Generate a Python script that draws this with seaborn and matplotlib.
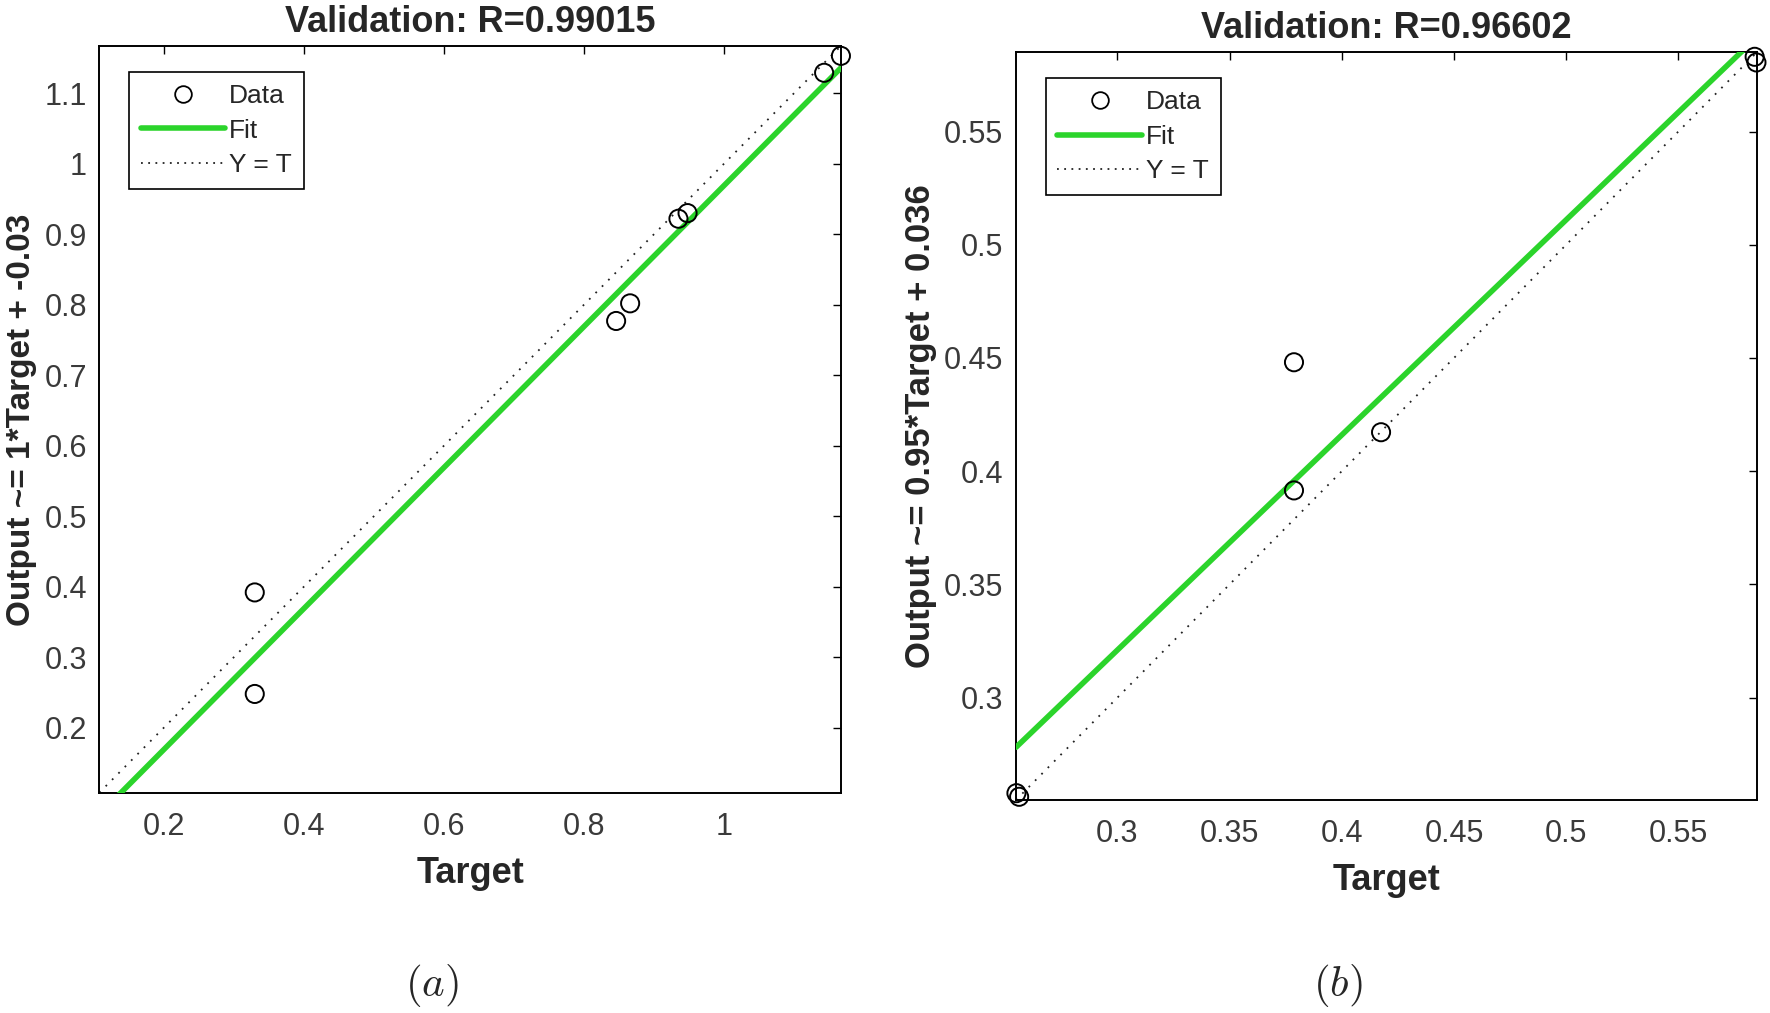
import numpy as np
import pandas as pd
import seaborn as sns
import matplotlib
matplotlib.use("Agg")
import matplotlib.pyplot as plt
from matplotlib.lines import Line2D
from matplotlib.ticker import FuncFormatter

# ---------------- data ----------------
titles = ["Validation: R=0.99015", "Validation: R=0.96602"]
ylabels = ["Output ~= 1*Target + -0.03", "Output ~= 0.95*Target + 0.036"]
panel_tags = [r"$(a)$", r"$(b)$"]

target_a = [0.330, 0.330, 0.846, 0.866, 0.935, 0.948, 1.143, 1.167]
output_a = [0.392, 0.248, 0.777, 0.802, 0.922, 0.930, 1.129, 1.153]
fit_a = (1.0, -0.031)          # slope, intercept
lims_a = (0.108, 1.167)
xticks_a = [0.2, 0.4, 0.6, 0.8, 1.0]
yticks_a = [0.2, 0.3, 0.4, 0.5, 0.6, 0.7, 0.8, 0.9, 1.0, 1.1]

target_b = [0.2550, 0.2562, 0.3787, 0.3787, 0.4175, 0.5840, 0.5848]
output_b = [0.2578, 0.2562, 0.4481, 0.3915, 0.4172, 0.5830, 0.5805]
fit_b = (0.95, 0.036)
lims_b = (0.2548, 0.5850)
xticks_b = [0.3, 0.35, 0.4, 0.45, 0.5, 0.55]
yticks_b = [0.3, 0.35, 0.4, 0.45, 0.5, 0.55]

# ---------------- style ----------------
sns.set_theme(style="white")
plt.rcParams["font.family"] = ["Liberation Sans", "DejaVu Sans"]
plt.rcParams["mathtext.fontset"] = "cm"

GREEN = "#2bd42b"
TICKC = "#3a3a3a"

fig = plt.figure(figsize=(17.7, 10.13), dpi=100)
ax_a = fig.add_axes([0.0561, 0.2175, 0.4190, 0.7371])
ax_b = fig.add_axes([0.5740, 0.2103, 0.4186, 0.7381])

panels = [
    (ax_a, target_a, output_a, fit_a, lims_a, xticks_a, yticks_a, -0.084, 24),
    (ax_b, target_b, output_b, fit_b, lims_b, xticks_b, yticks_b, -0.107, 25),
]

fmt = FuncFormatter(lambda v, p: f"{v:g}")

for i, (ax, t, o, fit, lims, xt, yt, ylab_x, ylab_fs) in enumerate(panels):
    lim_arr = np.array(lims)
    # Y = T dotted line
    sns.lineplot(x=lim_arr, y=lim_arr, ax=ax, color="#222222", linestyle=(0, (1, 4)),
                 linewidth=1.3, zorder=2)
    # Fit line
    sns.lineplot(x=lim_arr, y=fit[0] * lim_arr + fit[1], ax=ax, color=GREEN,
                 linewidth=4, zorder=3)
    # Data
    df = pd.DataFrame({"Target": t, "Output": o})
    sns.scatterplot(data=df, x="Target", y="Output", ax=ax, marker="o", s=170,
                    facecolor="none", edgecolor="black", linewidth=1.4,
                    zorder=4, clip_on=False)
    ax.set_xlim(lims)
    ax.set_ylim(lims)
    ax.set_xticks(xt)
    ax.set_yticks(yt)
    ax.xaxis.set_major_formatter(fmt)
    ax.yaxis.set_major_formatter(fmt)
    ax.tick_params(direction="in", length=6, width=1, top=True, right=True,
                   labelsize=22, colors="black", labelcolor=TICKC)
    ax.tick_params(axis="x", pad=14)
    ax.tick_params(axis="y", pad=9)
    for sp in ax.spines.values():
        sp.set_visible(True)
        sp.set_color("black")
        sp.set_linewidth(1.4)
    ax.set_title(titles[i], fontsize=26, fontweight="bold", pad=10)
    ax.set_xlabel("Target", fontsize=26, fontweight="bold", labelpad=10)
    ax.set_ylabel(ylabels[i], fontsize=ylab_fs, fontweight="bold")
    ax.yaxis.set_label_coords(ylab_x, 0.5)

    handles = [
        Line2D([], [], marker="o", linestyle="none", markerfacecolor="none",
               markeredgecolor="black", markersize=12, markeredgewidth=1.3),
        Line2D([], [], color=GREEN, linewidth=4),
        Line2D([], [], color="#222222", linestyle=(0, (1, 3)), linewidth=1.3),
    ]
    leg = ax.legend(handles, ["Data", "Fit", "Y = T"], loc="upper left",
                    bbox_to_anchor=(0.04, 0.965), fontsize=19, frameon=True,
                    fancybox=False, framealpha=1, edgecolor="black",
                    handlelength=3.2, handletextpad=0.15, labelspacing=0.4,
                    borderpad=0.45, borderaxespad=0)
    leg.get_frame().set_linewidth(1.2)

fig.text(0.244, 0.027, panel_tags[0], fontsize=31, ha="center", va="center")
fig.text(0.756, 0.027, panel_tags[1], fontsize=31, ha="center", va="center")

fig.savefig("out.png", dpi=100)
